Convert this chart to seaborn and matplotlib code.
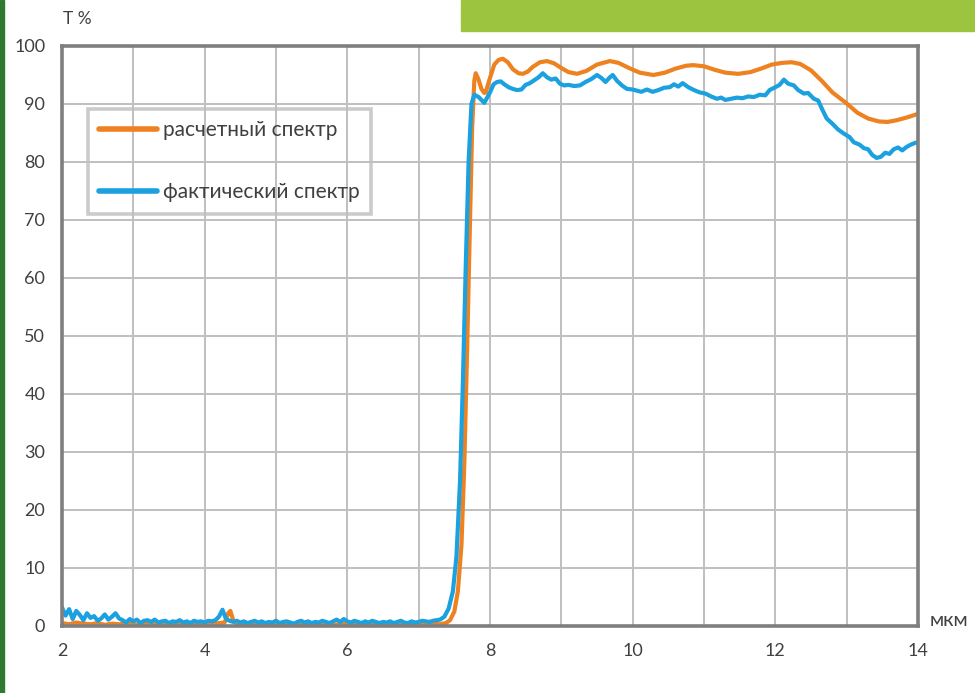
import numpy as np
import pandas as pd
import matplotlib
matplotlib.use("Agg")
import matplotlib.pyplot as plt
import seaborn as sns
from matplotlib.patches import Rectangle

# ---- data -------------------------------------------------------------
calc_label = "расчетный спектр"
meas_label = "фактический спектр"

# calculated spectrum: blocking band sampled every 0.1 um (2.0 .. 4.2 and 4.5 .. 7.2)
calc_block_a = [0.5, 0.3, 0.6, 0.4, 0.3, 0.5, 0.2, 0.4, 0.3, 0.5, 0.3, 0.2,
                0.4, 0.3, 0.5, 0.2, 0.3, 0.4, 0.2, 0.3, 0.4, 0.3, 0.5]
calc_block_b = [0.3, 0.2, 0.4, 0.3, 0.2, 0.3, 0.4, 0.2, 0.3, 0.3, 0.2, 0.4, 0.3, 0.2,
                0.3, 0.4, 0.3, 0.2, 0.3, 0.2, 0.4, 0.3, 0.2, 0.3, 0.3, 0.2, 0.3, 0.4]
calc_wl = [4.28, 4.33, 4.36, 4.40, 4.45,
           7.30, 7.38, 7.44, 7.50, 7.55, 7.60, 7.64, 7.68, 7.72, 7.75, 7.78, 7.80,
           7.84, 7.88, 7.92, 7.94, 8.00, 8.06, 8.12, 8.18, 8.25, 8.32, 8.40, 8.46,
           8.53, 8.60, 8.70, 8.80, 8.90, 9.00, 9.10, 9.22, 9.35, 9.50, 9.68, 9.80,
           9.95, 10.10, 10.29, 10.45, 10.60, 10.75, 10.85, 11.00, 11.15, 11.30,
           11.48, 11.65, 11.80, 11.95, 12.10, 12.23, 12.35, 12.50, 12.65, 12.80,
           13.00, 13.15, 13.30, 13.45, 13.57, 13.70, 13.85, 14.00]
calc_T = [0.6, 2.2, 2.6, 1.0, 0.4,
          0.3, 0.5, 1.0, 2.5, 6.0, 14.0, 28.0, 48.0, 70.0, 86.0, 94.0, 95.3,
          94.2, 92.6, 91.9, 92.0, 94.5, 96.8, 97.6, 97.8, 97.2, 96.0, 95.3, 95.2,
          95.6, 96.4, 97.2, 97.4, 97.0, 96.2, 95.5, 95.2, 95.7, 96.8, 97.4, 97.1,
          96.2, 95.4, 95.0, 95.4, 96.1, 96.6, 96.7, 96.5, 95.9, 95.4,
          95.2, 95.5, 96.1, 96.8, 97.1, 97.2, 96.9, 95.8, 94.0, 92.0,
          90.1, 88.5, 87.5, 87.0, 86.9, 87.2, 87.7, 88.3]

# measured spectrum: blocking band sampled every 0.05 um from 2.0 um
meas_block = [3.2, 1.8, 2.9, 1.2, 2.6, 1.9, 1.0, 2.2, 1.4, 1.7, 0.9, 1.3, 2.0, 1.1, 1.6,
              2.2, 1.3,
              1.0, 0.6, 1.2, 0.8, 1.1, 0.5, 0.9, 1.0, 0.7, 1.1, 0.6, 0.8, 0.9, 0.5,
              0.8, 0.7, 1.0, 0.6, 0.8, 0.5, 0.9, 0.7, 0.8, 0.6, 0.9, 0.8, 1.0,
              1.6, 2.8, 1.2, 0.9,
              0.7, 0.9, 0.6, 0.8, 0.5, 0.7, 0.9, 0.6, 0.8, 0.5, 0.7, 0.6, 0.9, 0.5,
              0.7, 0.8, 0.6, 0.4, 0.7, 0.9, 0.6, 0.8, 0.5, 0.7, 0.6, 0.9, 0.7, 0.5,
              0.8, 1.1, 0.7, 1.2, 0.8, 0.6, 0.9, 0.7, 0.5, 0.8, 0.6, 0.9, 0.7, 0.5,
              0.7, 0.6, 0.8, 0.5, 0.7, 0.9, 0.6, 0.5, 0.8, 0.6, 0.7, 0.9, 0.8, 0.7,
              0.9, 1.0]
meas_wl = [7.30, 7.36, 7.42, 7.48, 7.53, 7.58, 7.62, 7.66, 7.70, 7.74, 7.78, 7.84,
           7.92, 8.00, 8.05, 8.10, 8.15, 8.20, 8.26, 8.32, 8.38, 8.44, 8.50, 8.56,
           8.62, 8.68, 8.74, 8.80, 8.86, 8.92, 8.98, 9.04, 9.10, 9.18, 9.26, 9.34,
           9.42, 9.50, 9.56, 9.62, 9.68, 9.72, 9.78, 9.85, 9.92, 10.00, 10.06,
           10.12, 10.20, 10.28, 10.36, 10.44, 10.52, 10.58, 10.64, 10.70, 10.78,
           10.86, 10.94, 11.02, 11.10, 11.18, 11.24, 11.30, 11.38, 11.46, 11.54,
           11.62, 11.70, 11.78, 11.86, 11.92, 12.00, 12.06, 12.12, 12.18, 12.26,
           12.32, 12.40, 12.46, 12.54, 12.60, 12.66, 12.72, 12.80, 12.88, 12.96,
           13.04, 13.10, 13.18, 13.24, 13.30, 13.36, 13.42, 13.48, 13.54, 13.60,
           13.66, 13.72, 13.78, 13.84, 13.90, 13.96, 14.00]
meas_T = [1.1, 1.6, 3.0, 6.0, 12.0, 25.0, 42.0, 62.0, 80.0, 90.0, 91.6, 91.2,
          90.2, 92.0, 93.4, 93.8, 93.9, 93.4, 92.9, 92.6, 92.4, 92.5, 93.3, 93.6,
          94.1, 94.6, 95.3, 94.6, 94.2, 94.4, 93.5, 93.2, 93.3, 93.1, 93.2, 93.8,
          94.3, 95.0, 94.5, 93.8, 94.6, 95.0, 94.0, 93.2, 92.6, 92.5, 92.3,
          92.1, 92.5, 92.1, 92.4, 92.8, 92.9, 93.4, 93.0, 93.6, 92.9,
          92.4, 92.0, 91.8, 91.3, 90.9, 91.1, 90.7, 90.9, 91.1, 91.0,
          91.3, 91.2, 91.6, 91.5, 92.4, 92.9, 93.3, 94.2, 93.5, 93.2,
          92.4, 91.8, 91.9, 90.9, 90.6, 89.0, 87.5, 86.6, 85.6, 84.9,
          84.3, 83.4, 83.0, 82.4, 82.2, 81.2, 80.7, 80.9, 81.6, 81.4,
          82.2, 82.5, 82.0, 82.6, 83.0, 83.3, 83.4]

x_ticks = [2, 4, 6, 8, 10, 12, 14]
y_ticks = [0, 10, 20, 30, 40, 50, 60, 70, 80, 90, 100]

# ---- assemble long table ---------------------------------------------
calc_x = (list(np.round(2.0 + 0.1 * np.arange(len(calc_block_a)), 2))
          + calc_wl[:5]
          + list(np.round(4.5 + 0.1 * np.arange(len(calc_block_b)), 2))
          + calc_wl[5:])
calc_y = calc_block_a + calc_T[:5] + calc_block_b + calc_T[5:]
meas_x = list(np.round(2.0 + 0.05 * np.arange(len(meas_block)), 2)) + meas_wl
meas_y = meas_block + meas_T

df = pd.DataFrame({
    "wl": calc_x + meas_x,
    "T": calc_y + meas_y,
    "series": [calc_label] * len(calc_x) + [meas_label] * len(meas_x),
})

# ---- styling ------------------------------------------------------------
sns.set_theme(style="white")
plt.rcParams["font.family"] = ["Lato", "DejaVu Sans"]
text_color = "#404040"

fig = plt.figure(figsize=(9.75, 6.93), dpi=100)
ax = fig.add_axes([62 / 975, 1 - 626 / 693, (918 - 62) / 975, (626 - 46) / 693])

# decorative page elements
fig.patches.append(Rectangle((0, 0), 4 / 975, 1, transform=fig.transFigure,
                             color="#2F7A2E", zorder=0))
fig.patches.append(Rectangle((461 / 975, 1 - 31 / 693), 1, 31 / 693,
                             transform=fig.transFigure, color="#9DC43F", zorder=0))

sns.lineplot(data=df, x="wl", y="T", hue="series",
             hue_order=[calc_label, meas_label],
             palette=["#EE8220", "#1BA1DF"], linewidth=3.0,
             estimator=None, ax=ax)

ax.set_xlim(2, 14)
ax.set_ylim(0, 100)
ax.set_xticks(x_ticks)
ax.set_xticks(np.arange(3, 14, 2), minor=True)
ax.set_yticks(y_ticks)
ax.grid(True, which="both", color="#BFBFBF", linewidth=1.4)
ax.set_axisbelow(True)
ax.tick_params(which="both", length=0, labelsize=13, colors=text_color, pad=12)
ax.set_xlabel("")
ax.set_ylabel("")
for sp in ax.spines.values():
    sp.set_color("#7F7F7F")
    sp.set_linewidth(2.6)
    sp.set_visible(True)

fig.text(63 / 975, 1 - 19 / 693, "T %", fontsize=12.5, color=text_color,
         ha="left", va="center")
fig.text(930 / 975, 1 - 620 / 693, "мкм", fontsize=14.5, color=text_color,
         ha="left", va="center")

leg = ax.legend(loc="upper left", bbox_to_anchor=(88 / 975, 1 - 109 / 693),
                bbox_transform=fig.transFigure, borderaxespad=0,
                fontsize=15, handlelength=2.75, handletextpad=0.3,
                labelspacing=2.0, borderpad=0.55, frameon=True, fancybox=False)
frame = leg.get_frame()
frame.set_facecolor("none")
frame.set_edgecolor("#BFBFBF")
frame.set_linewidth(2.6)
for t in leg.get_texts():
    t.set_color(text_color)
for h in leg.get_lines():
    h.set_linewidth(4)

fig.savefig("out.png", dpi=100)
